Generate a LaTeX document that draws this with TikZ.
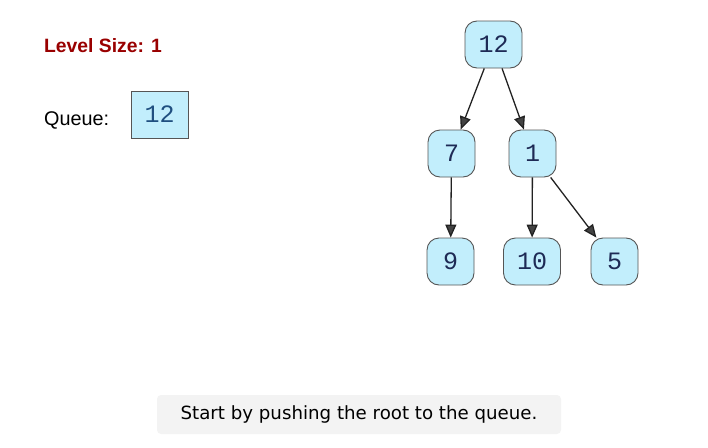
\documentclass[tikz,border=0pt]{standalone}
\usepackage{fontspec}
\setmainfont{Liberation Sans}
\newfontfamily\monofont{Liberation Mono}
\newfontfamily\verdfont{DejaVu Sans}
\usetikzlibrary{arrows.meta}
\definecolor{nodefill}{HTML}{C2EEFC}
\definecolor{nodeborder}{HTML}{555555}
\definecolor{navytext}{HTML}{1E2A55}
\definecolor{queuetext}{HTML}{1F4F80}
\definecolor{darkred}{HTML}{990000}
\definecolor{msgfill}{HTML}{F3F3F3}
\definecolor{arrowcol}{HTML}{222222}
\tikzset{
  treenode/.style={draw=nodeborder, line width=0.9pt, fill=nodefill, rounded corners=12pt,
    minimum width=47pt, minimum height=47pt, inner xsep=13.5pt, inner ysep=0pt,
    font=\monofont\fontsize{25}{25}\selectfont, text=navytext},
  queuebox/.style={draw=nodeborder, line width=0.9pt, fill=nodefill,
    minimum width=57pt, minimum height=47pt, inner sep=0pt,
    font=\monofont\fontsize{25}{25}\selectfont, text=queuetext},
  edge/.style={draw=arrowcol, line width=1.3pt,
    -{Triangle[length=13pt,width=11pt,fill=arrowcol!85!white]}},
}
\begin{document}
\begin{tikzpicture}[x=1pt,y=-1pt]
\useasboundingbox (0,0) rectangle (708,447);
% left panel
\node[anchor=west, font=\bfseries\fontsize{19.3}{19.3}\selectfont, text=darkred, inner sep=0pt] (lvl) at (44,46) {Level Size: 1};
\node[anchor=west, font=\fontsize{19.8}{19.8}\selectfont, inner sep=0pt] (qlabel) at (44,120) {Queue:};
\node[queuebox] (q12) at (159.5,114.5) {12};
% tree
\node[treenode] (n12) at (493.5,44.5) {12};
\node[treenode] (n7) at (451.5,153.5) {7};
\node[treenode] (n1) at (532.5,153.5) {1};
\node[treenode] (n9) at (450.5,261.5) {9};
\node[treenode] (n10) at (532,261.5) {10};
\node[treenode] (n5) at (614.5,261.5) {5};
\draw[edge] (n12) -- (n7);
\draw[edge] (n12) -- (n1);
\draw[edge] (n7) -- (n9);
\draw[edge] (n1) -- (n10);
\draw[edge] (n1) -- (n5);
% message
\node[fill=msgfill, rounded corners=4pt, minimum width=404pt, minimum height=39pt, inner sep=0pt,
  font=\verdfont\fontsize{18.2}{18.2}\selectfont] (msg) at (359,414.5) {Start by pushing the root to the queue.};
\end{tikzpicture}
\end{document}
